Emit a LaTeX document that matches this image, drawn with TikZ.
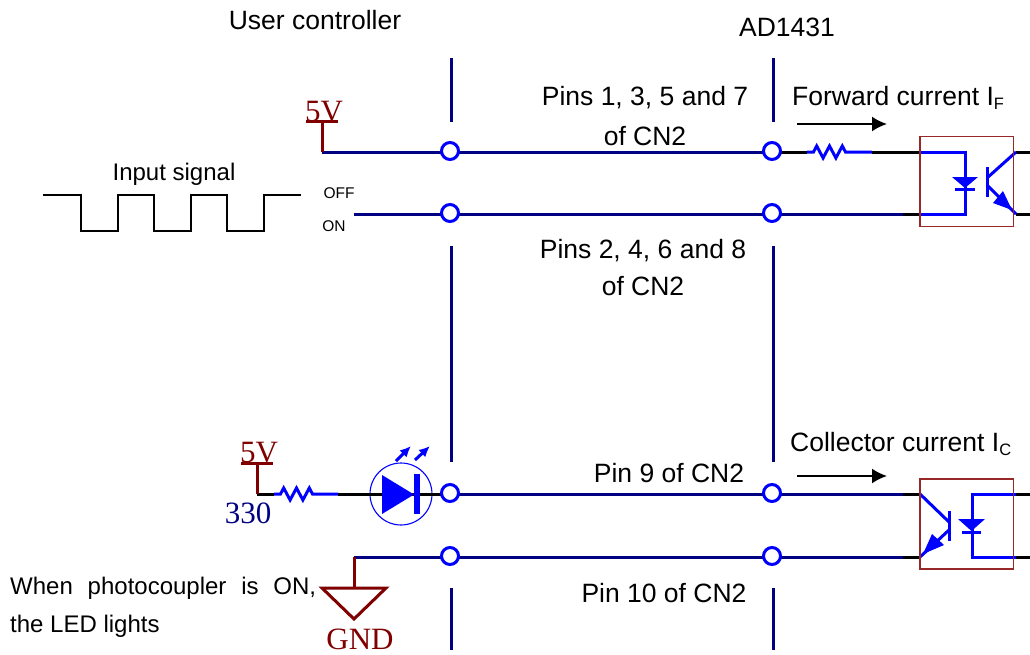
\documentclass[tikz,border=0pt]{standalone}
\usepackage{fontspec}
\setmainfont{Liberation Sans}
\newfontfamily\serifx{Liberation Serif}
\usetikzlibrary{arrows.meta}
\definecolor{navyw}{RGB}{0,0,130}
\definecolor{bluew}{RGB}{0,0,255}
\definecolor{maroonw}{RGB}{128,0,0}
\definecolor{boxred}{RGB}{150,40,40}
\tikzset{
 lbl/.style={inner sep=0pt,font=\fontsize{26.5}{30}\selectfont,text=black},
 sub/.style={inner sep=0pt,font=\fontsize{15.5}{18}\selectfont,text=black},
 small/.style={inner sep=0pt,font=\fontsize{24}{28}\selectfont,text=black},
 serifm/.style={inner sep=0pt,font=\serifx\fontsize{31}{34}\selectfont,text=maroonw},
 term/.style={circle,draw=bluew,fill=white,line width=3pt,minimum size=17pt,inner sep=0pt},
 navyline/.style={draw=navyw,line width=3pt},
 sep/.style={draw=navyw,line width=3pt},
 bluel/.style={draw=bluew,line width=3pt},
 blackl/.style={draw=black,line width=3pt},
 marl/.style={draw=maroonw,line width=3pt},
 curr/.style={draw=black,line width=2pt,-{Latex[length=15pt,width=15pt]}},
 wave/.style={draw=black,line width=1.7pt},
 optobox/.style={draw=boxred,line width=1.1pt},
 tip/.style={bluel,-{Latex[length=11pt,width=10pt]}},
}
\newcommand{\zigzag}[2]{% x start, y
 (#1,#2) -- ++(6.5,0) -- ++(3.2,-6) -- ++(6.4,12) -- ++(6.4,-12) -- ++(6.4,12) -- ++(6.4,-12) -- ++(3.2,6) -- ++(6,0)}
\begin{document}
\begin{tikzpicture}[x=1pt,y=-1pt]
\useasboundingbox (0,0) rectangle (1030,654);
% separators
\foreach \x/\n in {451/l,773.5/r}{
 \draw[sep] (\x,58) -- (\x,122);
 \draw[sep] (\x,246) -- (\x,462);
 \draw[sep] (\x,588) -- (\x,650);
}
% coordinates
\coordinate (v1) at (322,152);
\coordinate (v1t) at (322,121);
\coordinate (on) at (354,214);
\coordinate (v2) at (257,494);
\coordinate (v2t) at (257,463);
\coordinate (g) at (354,557);
\coordinate (gt) at (354,588);
\coordinate (ra) at (807,152);
\coordinate (rb) at (872,152);
\coordinate (rc) at (274,494);
\coordinate (rd) at (338,494);
\coordinate (i1) at (920,152);
\coordinate (i2) at (903,214);
\coordinate (i3) at (920,214);
\coordinate (d1) at (965,152);
\coordinate (d2) at (965,214);
\coordinate (c1) at (1016,152);
\coordinate (c2) at (1016,214);
\coordinate (e1) at (1030,152);
\coordinate (e2) at (1030,214);
\coordinate (j1) at (903,494);
\coordinate (j2) at (903,557);
\coordinate (k1) at (920,494);
\coordinate (k2) at (920,557);
\coordinate (m1) at (972,494);
\coordinate (m2) at (972,557);
\coordinate (n1) at (1016,494);
\coordinate (n2) at (1016,557);
\coordinate (o1) at (1030,494);
\coordinate (o2) at (1030,557);
% wires
\draw[navyline] (v1) -- (v1 -| 450,0) coordinate (w1);
\draw[navyline] (on) -- (on -| 450,0) coordinate (w2);
\draw[navyline] (g) -- (g -| 450,0) coordinate (w4);
\draw[navyline] (w1) -- (w1 -| 772,0) coordinate (x1);
\draw[navyline] (w2) -- (i2);
\draw[navyline] (v2 -| 450,0) -- (j1);
\draw[navyline] (w4) -- (j2);
\draw[blackl] (x1) -- (ra);
\draw[blackl] (rb) -- (i1);
\draw[blackl] (i2) -- (i3);
\draw[blackl] (j1) -- (k1);
\draw[blackl] (j2) -- (k2);
\draw[blackl] (c1) -- (e1);
\draw[blackl] (c2) -- (e2);
\draw[blackl] (n1) -- (o1);
\draw[blackl] (n2) -- (o2);
\draw[blackl] (v2) -- (rc);
% resistors
\draw[bluel,line join=miter] \zigzag{807}{152} -- (rb);
\draw[bluel,line join=miter] \zigzag{274}{494} -- (rd);
% LED
\node[circle,draw=bluew,line width=1.1pt,minimum size=62pt,inner sep=0pt] (led) at (401,494) {};
\draw[blackl] (rd) -- (v2 -| 450,0);
\fill[bluew] (382,475) -- (414,494.5) -- (382,514) -- cycle;
\fill[bluew] (414,474) rectangle (420,514);
\draw[tip] (396,461) -- (411,446);
\draw[tip] (415,460) -- (430,446);
% terminals
\node[term] (a1) at (450,151) {};
\node[term] (a2) at (450,213) {};
\node[term] (a3) at (450,493) {};
\node[term] (a4) at (450,556) {};
\node[term] (b1) at (772,151) {};
\node[term] (b2) at (772,213) {};
\node[term] (b3) at (772,493) {};
\node[term] (b4) at (772,556) {};
% power symbols
\draw[marl] (v1t) -- (v1);
\draw[marl] (306,121) -- (338,121);
\node[serifm] (p1) at (324,112) {5V};
\draw[marl] (v2t) -- (v2);
\draw[marl] (241,463) -- (273,463);
\node[serifm] (p2) at (259,453) {5V};
\draw[marl] (g) -- (gt);
\draw[marl,line join=miter] (322,588) -- (386,588) -- (354,619) -- cycle;
\node[serifm] (gnd) at (360,639) {GND};
\node[serifm,text=navyw] (r330) at (248,513) {330};
% top opto
\draw[bluel] (i1) -- (d1) -- (d2) -- (i3);
\fill[bluew] (952,177) -- (978,177) -- (965,188) -- cycle;
\draw[bluel] (955,189) -- (975,189);
\draw[bluel] (987,167) -- (987,197);
\draw[bluel] (987,178) -- (c1);
\draw[bluel] (987,185) -- (c2);
\fill[bluew] (1012,210) -- (993,203) -- (1003,191) -- cycle;
\node[optobox,rectangle,minimum width=93.5pt,minimum height=89.5pt,inner sep=0pt] (opto1) at (966.75,181.5) {};
% bottom opto
\draw[bluel] (n1) -- (m1) -- (m2) -- (n2);
\fill[bluew] (958,519) -- (985,519) -- (971.5,531) -- cycle;
\draw[bluel] (962,532) -- (981,532);
\draw[bluel] (949,511) -- (949,541);
\draw[bluel] (k1) -- (949,522);
\draw[bluel] (949,530) -- (k2);
\fill[bluew] (923,554) -- (932,534) -- (944,545) -- cycle;
\node[optobox,rectangle,minimum width=93.5pt,minimum height=90pt,inner sep=0pt] (opto2) at (966.75,524) {};
% current arrows
\coordinate (f1) at (797,124); \coordinate (f2) at (887,124);
\coordinate (f3) at (797,476); \coordinate (f4) at (887,476);
\draw[curr] (f1) -- (f2);
\draw[curr] (f3) -- (f4);
% wave
\draw[wave,line join=miter] (43,195) -- (81,195) -- (81,231) -- (118,231) -- (118,195) -- (154,195) -- (154,231) -- (191,231) -- (191,195) -- (227,195) -- (227,231) -- (264,231) -- (264,195) -- (301,195);
% text
\node[lbl] (t1) at (315,20) {User controller};
\node[lbl] (t2) at (787,27) {AD1431};
\node[lbl] (t3) at (645,98) {Pins 1, 3, 5 and 7};
\node[lbl] (t4) at (645,136) {of CN2};
\node[lbl] (t5) at (643,251) {Pins 2, 4, 6 and 8};
\node[lbl] (t6) at (643,286) {of CN2};
\node[lbl,anchor=west] (t7) at (792,98) {Forward current I\raisebox{-4pt}{\fontsize{16.5}{18}\selectfont F}};
\node[lbl,anchor=west] (t8) at (790,444) {Collector current I\raisebox{-4pt}{\fontsize{16.5}{18}\selectfont C}};
\node[lbl] (t9) at (669,473) {Pin 9 of CN2};
\node[lbl] (t10) at (664,593) {Pin 10 of CN2};
\node[small] (t11) at (174,174) {Input signal};
\node[sub] (t12) at (339,193) {OFF};
\node[sub] (t13) at (334,226) {ON};
\node[small,anchor=west] (t14) at (10,588) {\makebox[306pt][s]{When photocoupler is ON,}};
\node[small,anchor=west] (t15) at (10,626) {the LED lights};
\end{tikzpicture}
\end{document}
